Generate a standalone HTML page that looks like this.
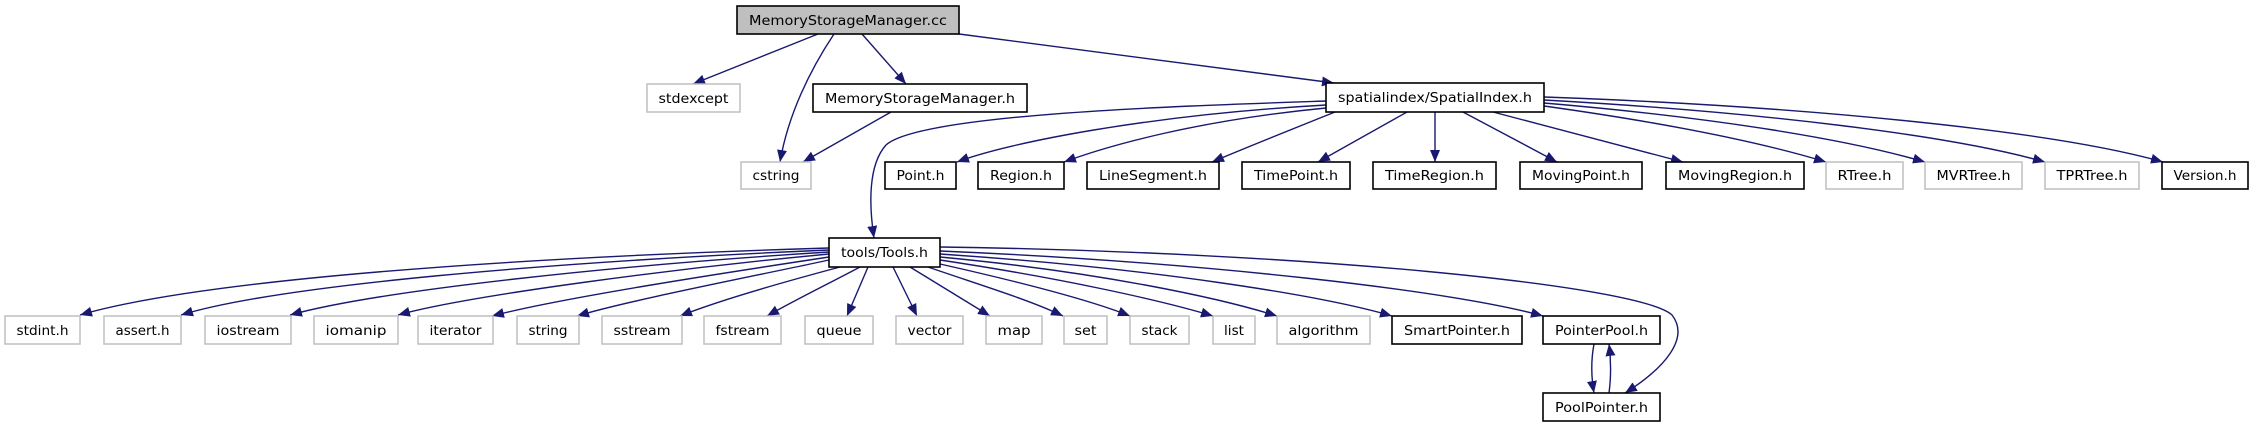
<!DOCTYPE html>
<html><head><meta charset="utf-8"><style>
html,body{margin:0;padding:0;background:#fff;}
svg{display:block;}
text{font-family:"DejaVu Sans","Liberation Sans",sans-serif;font-size:13px;fill:#000;}
.g{fill:#fff;stroke:#bfbfbf;stroke-width:1.5;}
.b{fill:#fff;stroke:#000;stroke-width:1.6;}
.e{fill:none;stroke:#191970;stroke-width:1.4;}
</style></head><body>
<svg width="2256" height="427" viewBox="0 0 2256 427" xmlns="http://www.w3.org/2000/svg">
<defs>
<marker id="a" markerUnits="userSpaceOnUse" markerWidth="14" markerHeight="12" refX="12" refY="5" orient="auto">
<path d="M0,0 L12,5 L0,10 z" fill="#191970"/>
</marker>
</defs>
<g marker-end="url(#a)">
<path class="e" d="M818,34 L693,84"/>
<path class="e" d="M834,34 C810,70 788,115 780,162"/>
<path class="e" d="M862,34 L906,84"/>
<path class="e" d="M959,34 L1334,83"/>
<path class="e" d="M891,112 L803,162"/>
<path class="e" d="M1326,101 C1180,106 920,114 886,145 C868,165 869,205 874,238"/>
<path class="e" d="M1326,105 C1150,115 1010,142 957,162"/>
<path class="e" d="M1326,108 C1200,120 1110,145 1064,162"/>
<path class="e" d="M1335,112 C1290,130 1245,148 1212,162"/>
<path class="e" d="M1407,112 L1318,162"/>
<path class="e" d="M1435,112 L1435,162"/>
<path class="e" d="M1463,112 L1557,162"/>
<path class="e" d="M1493,112 L1683,162"/>
<path class="e" d="M1544,106 C1680,125 1770,145 1826,162"/>
<path class="e" d="M1544,103 C1720,118 1850,140 1925,162"/>
<path class="e" d="M1544,100 C1760,112 1950,135 2045,162"/>
<path class="e" d="M1544,97 C1800,106 2050,130 2163,162"/>
<path class="e" d="M829,248 C500,258 200,280 80,315"/>
<path class="e" d="M829,250 C550,262 280,285 181,315"/>
<path class="e" d="M829,252 C620,265 380,290 290,315"/>
<path class="e" d="M829,254 C680,268 470,295 398,315"/>
<path class="e" d="M829,257 C730,272 560,298 492,316"/>
<path class="e" d="M829,260 C760,275 630,300 577,316"/>
<path class="e" d="M840,267 C780,283 720,300 680,316"/>
<path class="e" d="M860,267 C830,283 795,300 767,316"/>
<path class="e" d="M868,267 L847,316"/>
<path class="e" d="M893,267 L917,316"/>
<path class="e" d="M910,267 L990,316"/>
<path class="e" d="M928,267 C980,285 1030,300 1063,316"/>
<path class="e" d="M940,264 C1020,282 1090,300 1130,316"/>
<path class="e" d="M940,260 C1060,278 1160,300 1213,316"/>
<path class="e" d="M940,257 C1100,272 1220,298 1277,316"/>
<path class="e" d="M940,254 C1150,268 1320,295 1392,316"/>
<path class="e" d="M940,251 C1200,262 1450,290 1543,316"/>
<path class="e" d="M940,247 C1300,252 1640,285 1672,315 C1690,338 1665,368 1625,393"/>
<path class="e" d="M1594,344 C1591,360 1591,376 1594,393"/>
<path class="e" d="M1609,393 C1611,378 1611,360 1609,344"/>
</g>
<g>
<rect x="737" y="6" width="222" height="28" fill="#bfbfbf" stroke="#000" stroke-width="1.6"/>
<text x="848" y="25" text-anchor="middle" textLength="198" lengthAdjust="spacingAndGlyphs">MemoryStorageManager.cc</text>
<rect class="g" x="647" y="84" width="93" height="28"/><text x="693.5" y="103" text-anchor="middle" textLength="70" lengthAdjust="spacingAndGlyphs">stdexcept</text>
<rect class="b" x="813" y="84" width="214" height="28"/><text x="920" y="103" text-anchor="middle" textLength="190" lengthAdjust="spacingAndGlyphs">MemoryStorageManager.h</text>
<rect class="b" x="1326" y="83" width="218" height="29"/><text x="1435" y="102" text-anchor="middle" textLength="194" lengthAdjust="spacingAndGlyphs">spatialindex/SpatialIndex.h</text>
<rect class="g" x="741" y="162" width="70" height="27"/><text x="776" y="180" text-anchor="middle" textLength="47" lengthAdjust="spacingAndGlyphs">cstring</text>
<rect class="b" x="885" y="162" width="71" height="27"/><text x="920.5" y="180" text-anchor="middle" textLength="48" lengthAdjust="spacingAndGlyphs">Point.h</text>
<rect class="b" x="978" y="162" width="86" height="27"/><text x="1021" y="180" text-anchor="middle" textLength="62" lengthAdjust="spacingAndGlyphs">Region.h</text>
<rect class="b" x="1087" y="162" width="132" height="27"/><text x="1153" y="180" text-anchor="middle" textLength="108" lengthAdjust="spacingAndGlyphs">LineSegment.h</text>
<rect class="b" x="1242" y="162" width="108" height="27"/><text x="1296" y="180" text-anchor="middle" textLength="84" lengthAdjust="spacingAndGlyphs">TimePoint.h</text>
<rect class="b" x="1373" y="162" width="123" height="27"/><text x="1434.5" y="180" text-anchor="middle" textLength="99" lengthAdjust="spacingAndGlyphs">TimeRegion.h</text>
<rect class="b" x="1520" y="162" width="122" height="27"/><text x="1581" y="180" text-anchor="middle" textLength="98" lengthAdjust="spacingAndGlyphs">MovingPoint.h</text>
<rect class="b" x="1666" y="162" width="138" height="27"/><text x="1735" y="180" text-anchor="middle" textLength="114" lengthAdjust="spacingAndGlyphs">MovingRegion.h</text>
<rect class="g" x="1826" y="162" width="77" height="27"/><text x="1864.5" y="180" text-anchor="middle" textLength="54" lengthAdjust="spacingAndGlyphs">RTree.h</text>
<rect class="g" x="1925" y="162" width="97" height="27"/><text x="1973.5" y="180" text-anchor="middle" textLength="74" lengthAdjust="spacingAndGlyphs">MVRTree.h</text>
<rect class="g" x="2045" y="162" width="94" height="27"/><text x="2092" y="180" text-anchor="middle" textLength="71" lengthAdjust="spacingAndGlyphs">TPRTree.h</text>
<rect class="b" x="2162" y="162" width="86" height="27"/><text x="2205" y="180" text-anchor="middle" textLength="63" lengthAdjust="spacingAndGlyphs">Version.h</text>
<rect class="b" x="829" y="238" width="111" height="29"/><text x="884.5" y="257" text-anchor="middle" textLength="87" lengthAdjust="spacingAndGlyphs">tools/Tools.h</text>
<rect class="g" x="5" y="316" width="75" height="28"/><text x="42.5" y="335" text-anchor="middle" textLength="52" lengthAdjust="spacingAndGlyphs">stdint.h</text>
<rect class="g" x="104" y="316" width="77" height="28"/><text x="142.5" y="335" text-anchor="middle" textLength="54" lengthAdjust="spacingAndGlyphs">assert.h</text>
<rect class="g" x="205" y="316" width="86" height="28"/><text x="248" y="335" text-anchor="middle" textLength="63" lengthAdjust="spacingAndGlyphs">iostream</text>
<rect class="g" x="314" y="316" width="84" height="28"/><text x="356" y="335" text-anchor="middle" textLength="61" lengthAdjust="spacingAndGlyphs">iomanip</text>
<rect class="g" x="418" y="316" width="75" height="28"/><text x="455.5" y="335" text-anchor="middle" textLength="52" lengthAdjust="spacingAndGlyphs">iterator</text>
<rect class="g" x="517" y="316" width="62" height="28"/><text x="548" y="335" text-anchor="middle" textLength="39" lengthAdjust="spacingAndGlyphs">string</text>
<rect class="g" x="602" y="316" width="80" height="28"/><text x="642" y="335" text-anchor="middle" textLength="57" lengthAdjust="spacingAndGlyphs">sstream</text>
<rect class="g" x="704" y="316" width="77" height="28"/><text x="742.5" y="335" text-anchor="middle" textLength="54" lengthAdjust="spacingAndGlyphs">fstream</text>
<rect class="g" x="805" y="316" width="68" height="28"/><text x="839" y="335" text-anchor="middle" textLength="45" lengthAdjust="spacingAndGlyphs">queue</text>
<rect class="g" x="896" y="316" width="67" height="28"/><text x="929.5" y="335" text-anchor="middle" textLength="44" lengthAdjust="spacingAndGlyphs">vector</text>
<rect class="g" x="986" y="316" width="56" height="28"/><text x="1014" y="335" text-anchor="middle" textLength="33" lengthAdjust="spacingAndGlyphs">map</text>
<rect class="g" x="1064" y="316" width="43" height="28"/><text x="1085.5" y="335" text-anchor="middle" textLength="22" lengthAdjust="spacingAndGlyphs">set</text>
<rect class="g" x="1130" y="316" width="59" height="28"/><text x="1159.5" y="335" text-anchor="middle" textLength="36" lengthAdjust="spacingAndGlyphs">stack</text>
<rect class="g" x="1213" y="316" width="42" height="28"/><text x="1234" y="335" text-anchor="middle" textLength="20" lengthAdjust="spacingAndGlyphs">list</text>
<rect class="g" x="1277" y="316" width="93" height="28"/><text x="1323.5" y="335" text-anchor="middle" textLength="70" lengthAdjust="spacingAndGlyphs">algorithm</text>
<rect class="b" x="1392" y="316" width="130" height="28"/><text x="1457" y="335" text-anchor="middle" textLength="106" lengthAdjust="spacingAndGlyphs">SmartPointer.h</text>
<rect class="b" x="1543" y="316" width="117" height="28"/><text x="1601.5" y="335" text-anchor="middle" textLength="93" lengthAdjust="spacingAndGlyphs">PointerPool.h</text>
<rect class="b" x="1543" y="393" width="117" height="28"/><text x="1601.5" y="412" text-anchor="middle" textLength="93" lengthAdjust="spacingAndGlyphs">PoolPointer.h</text>
</g>
</svg>
</body></html>
